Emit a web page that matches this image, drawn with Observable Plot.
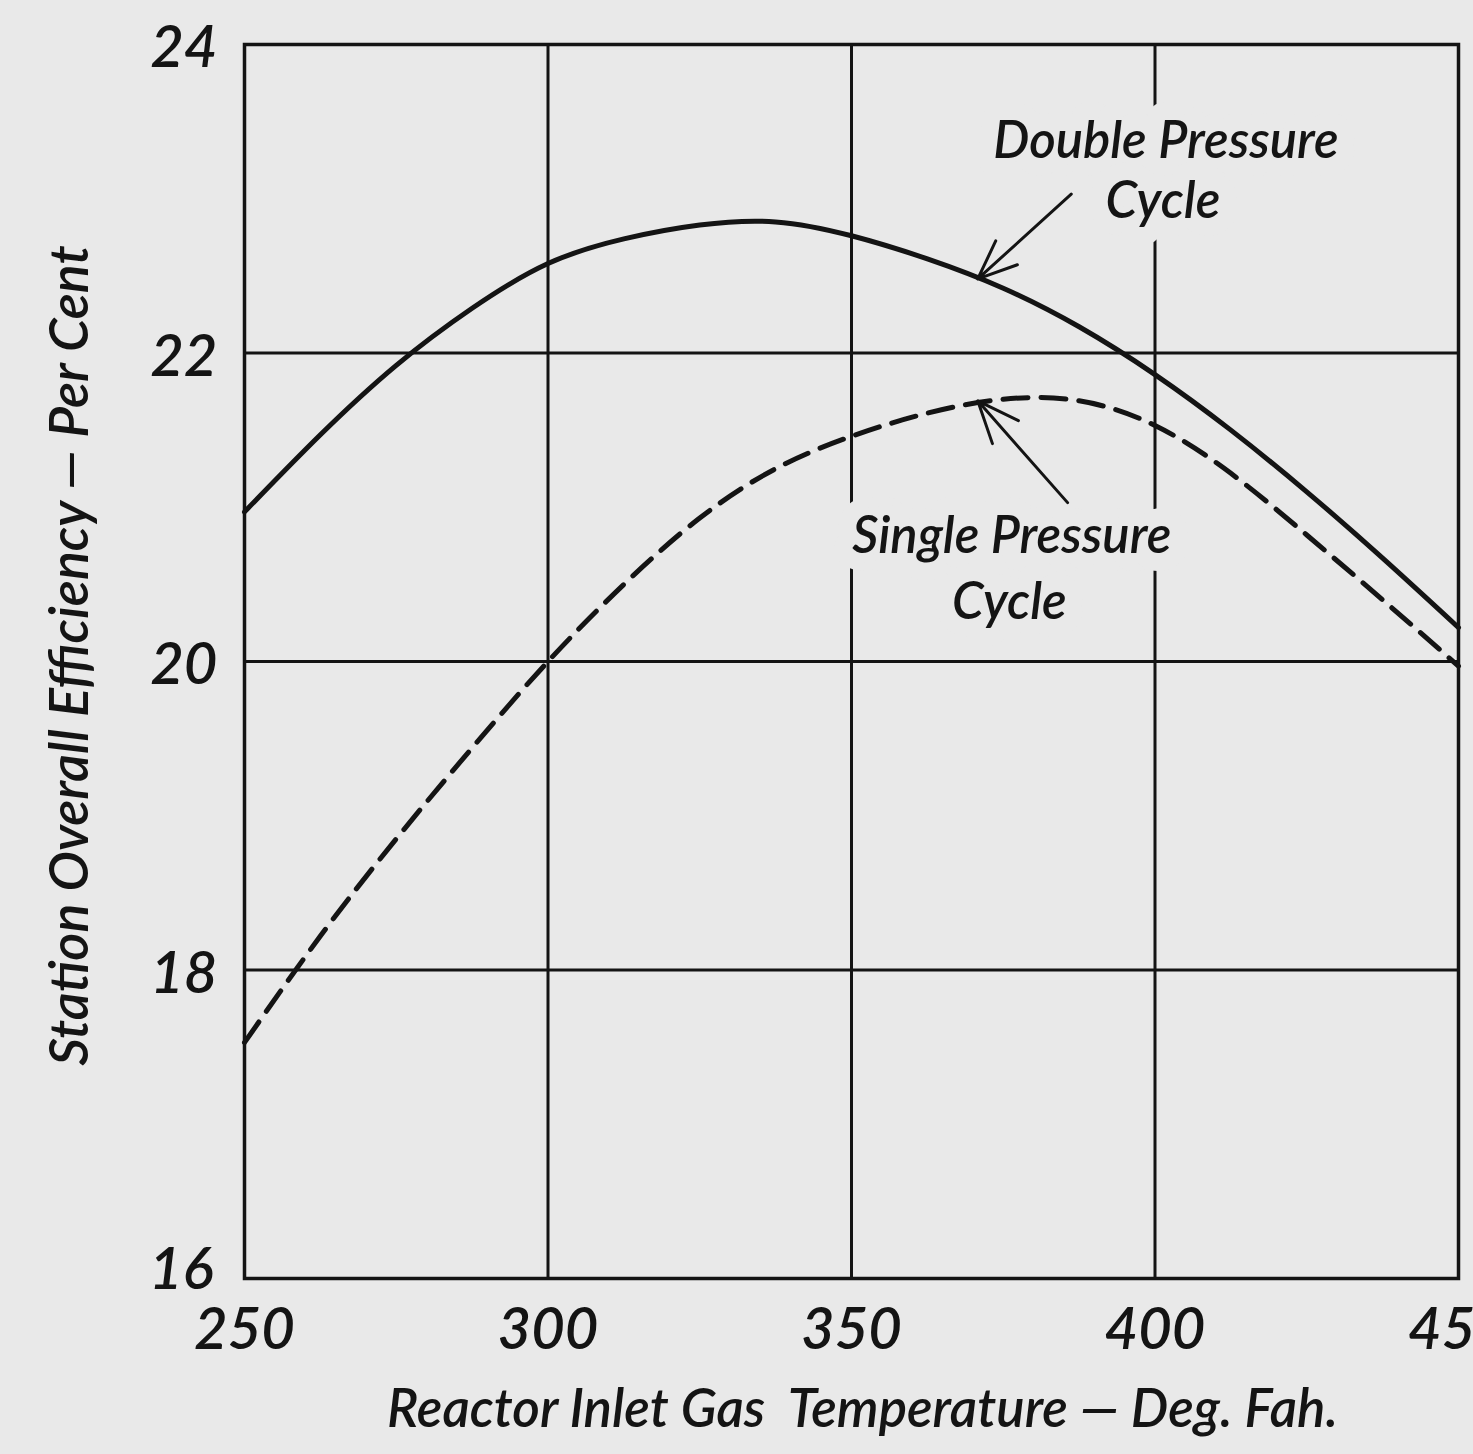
<!DOCTYPE html>
<html>
<head>
<meta charset="utf-8">
<script src="https://cdn.jsdelivr.net/npm/d3@7"></script>
<script src="https://cdn.jsdelivr.net/npm/@observablehq/plot@0.6"></script>
<style>
  html, body { margin: 0; padding: 0; background: #e9e9e9; overflow: hidden; }
  #chart svg { display: block; }
</style>
</head>
<body>
<div id="chart"></div>
<script>
// Reactor inlet gas temperature (deg F)
const temps = [250, 262.5, 275, 287.5, 300, 312.5, 325, 337.5, 350, 362.5, 375, 387.5, 400, 412.5, 425, 437.5, 450];
// Station overall efficiency (%) — Double Pressure Cycle (solid)
const doublePressure = [20.97, 21.47, 21.92, 22.29, 22.58, 22.74, 22.83, 22.85, 22.76, 22.61, 22.42, 22.17, 21.86, 21.50, 21.10, 20.67, 20.22];
// Station overall efficiency (%) — Single Pressure Cycle (dashed)
const singlePressure = [17.53, 18.22, 18.85, 19.44, 20.00, 20.50, 20.93, 21.25, 21.46, 21.61, 21.70, 21.69, 21.53, 21.22, 20.82, 20.40, 19.97];

const xTicks = [250, 300, 350, 400, 450];
const yTicks = [24, 22, 20, 18];
const yTickBottom = [16];
const xGrid = [300, 350, 400];
const yGrid = [18, 20, 22];

const xTitle = "Reactor Inlet Gas  Temperature — Deg. Fah.";
const yTitle = "Station Overall Efficiency — Per Cent";

// Annotation labels (data coordinates)
const labelText = ["Double Pressure", "Cycle", "Single Pressure", "Cycle"];
const labelX = [401.8, 401.3, 376.4, 376.0];
const labelY = [23.37, 22.98, 20.81, 20.38];

// Annotation arrows: from label (x1,y1) to curve (x2,y2)
const arrowX1 = [386.2, 385.6];
const arrowY1 = [23.03, 21.03];
const arrowX2 = [370.8, 370.8];
const arrowY2 = [22.48, 21.69];

const bg = "#e9e9e9";
const ink = "#141414";
const font = "Lato, 'Open Sans', sans-serif";

const doubleData = temps.map((t, i) => ({t, v: doublePressure[i]}));
const singleData = temps.map((t, i) => ({t, v: singlePressure[i]}));
const labels = labelText.map((s, i) => ({s, x: labelX[i], y: labelY[i]}));
const arrows = arrowX1.map((x1, i) => ({x1, y1: arrowY1[i], x2: arrowX2[i], y2: arrowY2[i]}));

const chart = Plot.plot({
  width: 1473,
  height: 1454,
  marginLeft: 244,
  marginRight: 15,
  marginTop: 44,
  marginBottom: 176,
  style: {background: bg, color: ink, fontFamily: font},
  x: {domain: [250, 450], axis: null},
  y: {domain: [16, 24], axis: null},
  marks: [
    Plot.ruleX(xGrid, {stroke: ink, strokeWidth: 3}),
    Plot.ruleY(yGrid, {stroke: ink, strokeWidth: 3}),
    // labels with paper-colour halo that knocks out the grid behind them
    Plot.text(labels, {
      x: "x", y: "y", text: "s",
      fontSize: 51, fontStyle: "italic", fontFamily: font, fontWeight: 600,
      fill: ink, stroke: bg, strokeWidth: 36, paintOrder: "stroke",
      lineAnchor: "middle", textAnchor: "middle"
    }),
    Plot.frame({stroke: ink, strokeWidth: 3.5}),
    Plot.line(doubleData, {x: "t", y: "v", curve: "natural", stroke: ink, strokeWidth: 5}),
    Plot.line(singleData, {x: "t", y: "v", curve: "natural", stroke: ink, strokeWidth: 5, strokeDasharray: "25,13"}),
    Plot.arrow(arrows, {
      x1: "x1", y1: "y1", x2: "x2", y2: "y2",
      stroke: ink, strokeWidth: 3, headLength: 28, headAngle: 45
    }),
    // y tick labels
    Plot.text(yTicks, {
      y: d => d, frameAnchor: "left", text: d => String(d), textAnchor: "end",
      dx: -27, dy: 4, fontSize: 58, fontStyle: "italic", fontFamily: font, fontWeight: 600, fill: ink
    }),
    Plot.text(yTickBottom, {
      y: d => d, frameAnchor: "left", text: d => String(d), textAnchor: "end",
      dx: -31, dy: -8, fontSize: 58, fontStyle: "italic", fontFamily: font, fontWeight: 600, fill: ink
    }),
    // x tick labels
    Plot.text(xTicks, {
      x: d => d, frameAnchor: "bottom", text: d => String(d), textAnchor: "middle",
      dx: 0, dy: 52, lineAnchor: "middle", fontSize: 58, fontStyle: "italic", fontFamily: font, fontWeight: 600, fill: ink
    }),
    // axis titles
    Plot.text([xTitle], {
      frameAnchor: "bottom", text: d => d, textAnchor: "middle", dx: 11, dy: 132, lineAnchor: "middle",
      fontSize: 53, fontStyle: "italic", fontFamily: font, fontWeight: 600, fill: ink
    }),
    Plot.text([yTitle], {
      frameAnchor: "left", text: d => d, textAnchor: "middle", rotate: -90, dx: -174, dy: -6, lineAnchor: "middle",
      fontSize: 54, fontStyle: "italic", fontFamily: font, fontWeight: 600, fill: ink
    })
  ]
});

document.getElementById("chart").appendChild(chart);
</script>
</body>
</html>
